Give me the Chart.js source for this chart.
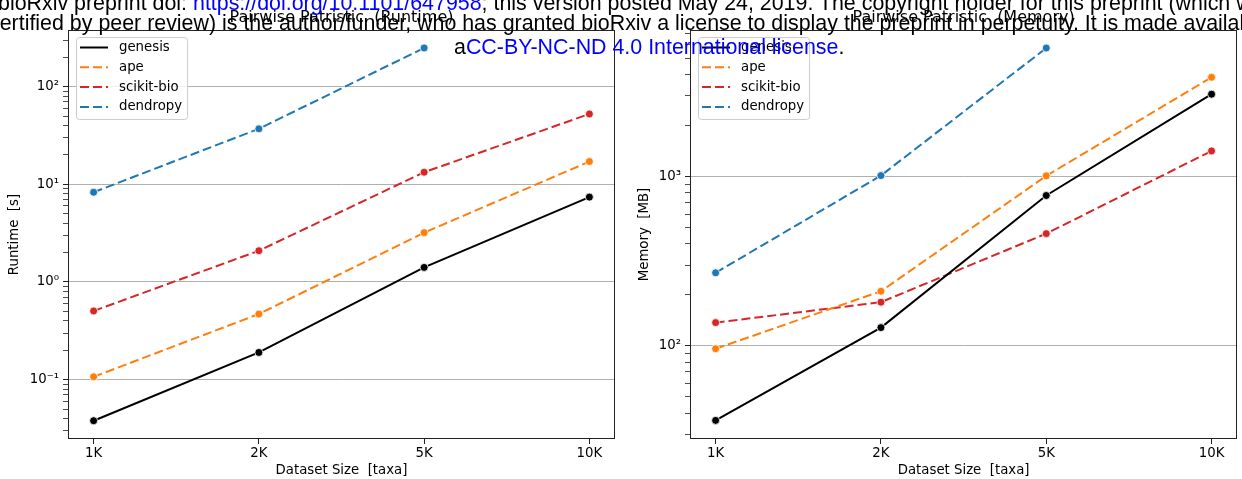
<!DOCTYPE html>
<html>
<head>
<meta charset="utf-8">
<title>Pairwise Patristic</title>
<script src="https://cdn.jsdelivr.net/npm/chart.js@4.4.1/dist/chart.umd.min.js"></script>
<style>
    html, body { margin: 0; padding: 0; background: #fff; overflow: hidden; }
    #page { position: relative; width: 1242px; height: 479px; overflow: hidden; }
    .panel { position: absolute; top: 0; height: 479px; }
    #runtimeBox { left: 0; width: 620px; }
    #memoryBox { left: 620px; width: 622px; }
    .header {
        position: absolute; white-space: nowrap; line-height: 1;
        font-family: "Liberation Sans", Arial, sans-serif; font-size: 21.4px; color: #000;
    }
    .header .link { color: #0000ff; }
</style>
</head>
<body>
<div id="page">
    <div class="panel" id="runtimeBox"><canvas id="runtimeChart" width="620" height="479"></canvas></div>
    <div class="panel" id="memoryBox"><canvas id="memoryChart" width="622" height="479"></canvas></div>

    <div class="header" style="left:-2px; top:-7px;">bioRxiv preprint doi: <span class="link">https://doi.org/10.1101/647958</span>; this version posted May 24, 2019. The copyright holder for this preprint (which was not</div>
    <div class="header" style="left:-11px; top:13px;">certified by peer review) is the author/funder, who has granted bioRxiv a license to display the preprint in perpetuity. It is made available under</div>
    <div class="header" style="left:454px; top:37px;">a<span class="link">CC-BY-NC-ND 4.0 International license</span>.</div>
</div>

<script>
// dataset sizes on the x axis
const sizeLabels = ['1K', '2K', '5K', '10K'];
const toolNames = ['genesis', 'ape', 'scikit-bio', 'dendropy'];
const toolColors = ['#000000', '#ff7f0e', '#d62728', '#1f77b4'];

// runtime [s]
const runtimeGenesis = [0.038, 0.19, 1.41, 7.4];
const runtimeApe = [0.107, 0.47, 3.2, 17.1];
const runtimeSkbio = [0.505, 2.09, 13.3, 52.5];
const runtimeDendropy = [8.3, 37, 249, null];

// memory [MB]
const memoryGenesis = [36.2, 128, 773, 3070];
const memoryApe = [96, 210, 1010, 3865];
const memorySkbio = [137, 181, 460, 1418];
const memoryDendropy = [270, 1014, 5754, null];

const runtimeRange = [0.0247, 380];
const memoryRange = [28.1, 7355];

const baseFont = { family: 'DejaVu Sans', size: 13.3 };
const supDigits = { '-': '⁻', '0': '⁰', '1': '¹', '2': '²', '3': '³', '4': '⁴', '5': '⁵', '6': '⁶', '7': '⁷', '8': '⁸', '9': '⁹' };

function isDecade(v) {
    const e = Math.log10(v);
    return Math.abs(e - Math.round(e)) < 1e-9;
}
function powerLabel(v) {
    const e = String(Math.round(Math.log10(v)));
    return '10' + e.split('').map(c => supDigits[c]).join('');
}
// 1..9 x 10^e inside the axis range
function logTicks(min, max) {
    let ticks = [];
    for (let e = Math.floor(Math.log10(min)); e <= Math.ceil(Math.log10(max)); e++) {
        for (let m = 1; m <= 9; m++) {
            const v = Number((m * Math.pow(10, e)).toPrecision(12));
            if (v >= min && v <= max) ticks.push({ value: v });
        }
    }
    return ticks;
}

// black box around the axes
const frameBox = {
    id: 'frameBox',
    beforeDatasetsDraw(chart) {
        const { ctx, chartArea: a } = chart;
        ctx.save();
        ctx.strokeStyle = '#222';
        ctx.lineWidth = 1;
        ctx.strokeRect(Math.round(a.left) + 0.5, Math.round(a.top) + 0.5,
            Math.round(a.right - a.left) - 1, Math.round(a.bottom - a.top) - 1);
        ctx.restore();
    }
};

// legend inside the upper left corner
const boxLegend = {
    id: 'boxLegend',
    afterDatasetsDraw(chart) {
        const { ctx, chartArea: a } = chart;
        const sets = chart.data.datasets;
        ctx.save();
        ctx.font = `${baseFont.size}px "${baseFont.family}"`;
        const textW = Math.max(...sets.map(s => ctx.measureText(s.label).width));
        const x = Math.round(a.left) + 8, y = Math.round(a.top) + 7;
        const w = 43 + textW + 5, h = 82;
        ctx.beginPath();
        ctx.roundRect(x + 0.5, y + 0.5, w, h, 3);
        ctx.fillStyle = 'rgba(255,255,255,0.8)';
        ctx.fill();
        ctx.strokeStyle = '#cccccc';
        ctx.lineWidth = 1;
        ctx.stroke();
        sets.forEach((s, i) => {
            const ly = y + 10.5 + i * 19.8;
            ctx.beginPath();
            ctx.setLineDash(s.borderDash || []);
            ctx.strokeStyle = s.borderColor;
            ctx.lineWidth = s.borderWidth;
            ctx.moveTo(x + 4, ly);
            ctx.lineTo(x + 32, ly);
            ctx.stroke();
            ctx.setLineDash([]);
            ctx.fillStyle = '#000';
            ctx.textBaseline = 'middle';
            ctx.fillText(s.label, x + 43, ly);
        });
        ctx.restore();
    }
};

// title centred over the plot area
const panelTitle = {
    id: 'panelTitle',
    afterDraw(chart, args, opts) {
        const { ctx, chartArea: a } = chart;
        ctx.save();
        ctx.font = `16px "${baseFont.family}"`;
        ctx.fillStyle = '#000';
        ctx.textAlign = 'center';
        ctx.textBaseline = 'alphabetic';
        ctx.fillText(opts.text, (a.left + a.right) / 2, a.top - 8);
        ctx.restore();
    }
};

function makeDataset(i, values) {
    return {
        label: toolNames[i],
        data: values.map((v, k) => ({ x: k, y: v })).filter(p => p.y !== null),
        borderColor: toolColors[i],
        backgroundColor: toolColors[i],
        borderWidth: 2,
        borderDash: i === 0 ? [] : [9, 4],
        pointRadius: 4,
        pointBackgroundColor: toolColors[i],
        pointBorderColor: '#ffffff',
        pointBorderWidth: 0.8,
        tension: 0,
        fill: false,
    };
}

function makeChart(canvasId, title, yTitle, range, series, opts) {
    const [yMin, yMax] = range;
    return new Chart(document.getElementById(canvasId), {
        type: 'line',
        data: { datasets: series.map((s, i) => makeDataset(i, s)) },
        options: {
            responsive: false,
            animation: false,
            events: [],
            devicePixelRatio: 1,
            layout: { padding: { top: 30, left: 0, right: opts.padRight, bottom: 0 } },
            plugins: {
                legend: { display: false },
                tooltip: { enabled: false },
                panelTitle: { text: title },
            },
            scales: {
                x: {
                    type: 'linear', min: -0.155, max: 3.155,
                    afterBuildTicks: scale => { scale.ticks = sizeLabels.map((_, i) => ({ value: i })); },
                    afterFit: scale => { scale.height = 40; },
                    border: { display: false },
                    grid: { drawOnChartArea: false, tickLength: 5, tickColor: '#222' },
                    ticks: { callback: v => sizeLabels[v], font: baseFont, color: '#000', padding: 2, maxRotation: 0 },
                    title: { display: true, text: 'Dataset Size  [taxa]', font: baseFont, color: '#000', padding: 0 },
                },
                y: {
                    type: 'logarithmic', min: yMin, max: yMax,
                    afterBuildTicks: scale => { scale.ticks = logTicks(yMin, yMax); },
                    afterFit: scale => { scale.width = opts.axisWidth; },
                    border: { display: false },
                    grid: {
                        color: c => (c.tick && isDecade(c.tick.value)) ? '#b0b0b0' : 'rgba(0,0,0,0)',
                        tickColor: '#222',
                        tickWidth: c => (c.tick && isDecade(c.tick.value)) ? 1 : 0.8,
                        tickLength: 5,
                        lineWidth: 1,
                    },
                    ticks: {
                        autoSkip: false,
                        callback: v => isDecade(v) ? powerLabel(v) : '',
                        font: baseFont, color: '#000', padding: 4,
                    },
                    title: { display: true, text: yTitle, font: baseFont, color: '#000', padding: { top: opts.titlePad, bottom: 0 } },
                },
            },
        },
        plugins: [frameBox, boxLegend, panelTitle],
    });
}

makeChart('runtimeChart', 'Pairwise Patristic  (Runtime)', 'Runtime  [s]', runtimeRange,
    [runtimeGenesis, runtimeApe, runtimeSkbio, runtimeDendropy],
    { axisWidth: 68, padRight: 5, titlePad: 7 });

makeChart('memoryChart', 'Pairwise Patristic  (Memory)', 'Memory  [MB]', memoryRange,
    [memoryGenesis, memoryApe, memorySkbio, memoryDendropy],
    { axisWidth: 70, padRight: 0, titlePad: 17 });
</script>
</body>
</html>
